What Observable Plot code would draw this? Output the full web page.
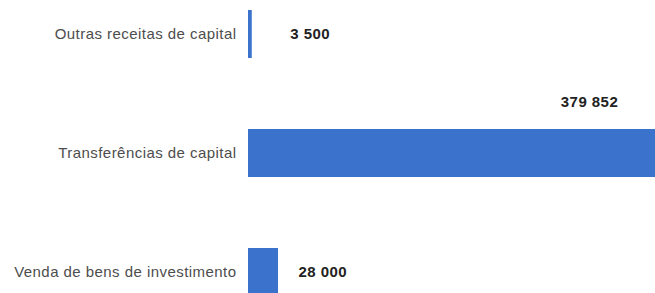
<!DOCTYPE html>
<html>
<head>
<meta charset="utf-8">
<script src="https://cdn.jsdelivr.net/npm/d3@7"></script>
<script src="https://cdn.jsdelivr.net/npm/@observablehq/plot@0.6"></script>
<style>
  html, body { margin: 0; padding: 0; background: #fff; }
  #chart svg { display: block; }
  #chart svg text { letter-spacing: 0.45px; }
</style>
</head>
<body>
<div id="chart"></div>
<script>
const categories = ["Outras receitas de capital", "Transferências de capital", "Venda de bens de investimento"];
const values = [3500, 379852, 28000];
const valueLabels = ["3 500", "379 852", "28 000"];

const data = categories.map((c, i) => ({category: c, value: values[i], label: valueLabels[i]}));
const barColor = "#3b72cb";
const font = "'Liberation Sans', Arial, sans-serif";

const chart = Plot.plot({
  width: 655,
  height: 293,
  marginLeft: 248,
  marginRight: 0,
  marginTop: 0,
  marginBottom: 0,
  style: {fontFamily: font, background: "#fff", overflow: "hidden"},
  x: {domain: [0, 379852], range: [248, 655], axis: null},
  y: {domain: categories, range: [9.5, 296.5], paddingInner: 0.6, paddingOuter: 0, label: null},
  marks: [
    Plot.barX(data, {x: "value", y: "category", fill: barColor}),
    Plot.axisY({tickSize: 0, tickPadding: 12, fontSize: 15, fill: "#4d4d4d", label: null}),
    Plot.text(data.filter(d => d.value === 3500), {x: "value", y: "category", text: "label", textAnchor: "start", dx: 38, fontSize: 15, fontWeight: "bold", fill: "#222"}),
    Plot.text(data.filter(d => d.value === 28000), {x: "value", y: "category", text: "label", textAnchor: "start", dx: 20, fontSize: 15, fontWeight: "bold", fill: "#222"}),
    Plot.text(data.filter(d => d.value === 379852), {x: "value", y: "category", text: "label", textAnchor: "middle", dx: -66, dy: -51, fontSize: 15, fontWeight: "bold", fill: "#222"})
  ]
});
document.getElementById("chart").appendChild(chart);
</script>
</body>
</html>
